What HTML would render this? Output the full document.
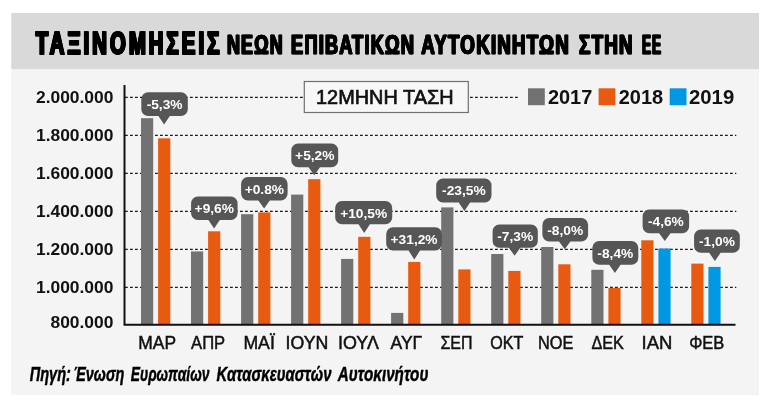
<!DOCTYPE html>
<html lang="el"><head><meta charset="utf-8"><title>ΤΑΞΙΝΟΜΗΣΕΙΣ ΝΕΩΝ ΕΠΙΒΑΤΙΚΩΝ ΑΥΤΟΚΙΝΗΤΩΝ ΣΤΗΝ ΕΕ</title>
<style>
html,body{margin:0;padding:0;background:#fff;}
body{width:768px;height:406px;overflow:hidden;position:relative;}
svg{position:absolute;left:0;top:0;display:block;}
text{font-family:"Liberation Sans",Arial,sans-serif;fill:#111;}
.t1{font-weight:bold;font-size:31.9px;fill:#000;stroke:#000;stroke-width:1.3px;stroke-linejoin:miter;letter-spacing:5px;filter:drop-shadow(0.4px 0 0 #000) drop-shadow(-0.4px 0 0 #000);}
.t2{font-weight:bold;font-size:28px;fill:#000;letter-spacing:1.8px;stroke:#000;stroke-width:0.45px;stroke-linejoin:miter;filter:drop-shadow(0.2px 0 0 #000) drop-shadow(-0.2px 0 0 #000);}
.yl{font-size:17.3px;font-weight:bold;text-anchor:end;}
.bx{font-size:20.6px;stroke:#111;stroke-width:0.7px;}
.lg{font-size:20px;font-weight:bold;}
.xl{font-size:18.4px;stroke:#111;stroke-width:0.5px;}
.src{font-size:19.5px;font-weight:bold;font-style:italic;fill:#000;stroke:#000;stroke-width:0.45px;}
.tp{font-size:12.8px;font-weight:bold;fill:#fff;text-anchor:middle;}
</style></head><body>
<svg width="768" height="406" viewBox="0 0 768 406">
<rect x="11.3" y="13" width="747.7" height="382.2" fill="#f4f4f4"/>
<rect x="11.3" y="13" width="747.7" height="56.1" fill="#d9d9d9"/>
<text class="t1" x="36.2" y="54.1" textLength="186.8" lengthAdjust="spacingAndGlyphs">ΤΑΞΙΝΟΜΗΣΕΙΣ</text>
<text class="t2" x="227.5" y="54.2" textLength="56.8" lengthAdjust="spacingAndGlyphs">ΝΕΩΝ</text>
<text class="t2" x="291.6" y="54.2" textLength="124.0" lengthAdjust="spacingAndGlyphs">ΕΠΙΒΑΤΙΚΩΝ</text>
<text class="t2" x="421.8" y="54.2" textLength="148.8" lengthAdjust="spacingAndGlyphs">ΑΥΤΟΚΙΝΗΤΩΝ</text>
<text class="t2" x="579.5" y="54.2" textLength="54.8" lengthAdjust="spacingAndGlyphs">ΣΤΗΝ</text>
<text class="t2" x="642.5" y="54.2" textLength="19.8" lengthAdjust="spacingAndGlyphs">ΕΕ</text>
<line x1="125" y1="97.3" x2="304" y2="97.3" stroke="#1a1a1a" stroke-width="1.2" stroke-dasharray="2.8 2.2"/>
<line x1="470" y1="97.3" x2="518.2" y2="97.3" stroke="#1a1a1a" stroke-width="1.2" stroke-dasharray="2.8 2.2"/>
<line x1="125" y1="135.3" x2="736.3" y2="135.3" stroke="#1a1a1a" stroke-width="1.2" stroke-dasharray="2.8 2.2"/>
<line x1="125" y1="173.3" x2="736.3" y2="173.3" stroke="#1a1a1a" stroke-width="1.2" stroke-dasharray="2.8 2.2"/>
<line x1="125" y1="211.3" x2="736.3" y2="211.3" stroke="#1a1a1a" stroke-width="1.2" stroke-dasharray="2.8 2.2"/>
<line x1="125" y1="249.3" x2="736.3" y2="249.3" stroke="#1a1a1a" stroke-width="1.2" stroke-dasharray="2.8 2.2"/>
<line x1="125" y1="287.3" x2="736.3" y2="287.3" stroke="#1a1a1a" stroke-width="1.2" stroke-dasharray="2.8 2.2"/>
<rect x="141.0" y="118.2" width="12.2" height="206.5" fill="#727272"/>
<rect x="158.1" y="138.3" width="12.2" height="186.4" fill="#e85a0f"/>
<rect x="191.0" y="251.4" width="12.2" height="73.3" fill="#727272"/>
<rect x="208.1" y="231.3" width="12.2" height="93.4" fill="#e85a0f"/>
<rect x="241.1" y="214.2" width="12.2" height="110.5" fill="#727272"/>
<rect x="258.2" y="212.4" width="12.2" height="112.3" fill="#e85a0f"/>
<rect x="291.1" y="194.6" width="12.2" height="130.1" fill="#727272"/>
<rect x="308.2" y="179.2" width="12.2" height="145.5" fill="#e85a0f"/>
<rect x="341.1" y="258.9" width="12.2" height="65.8" fill="#727272"/>
<rect x="358.2" y="236.8" width="12.2" height="87.9" fill="#e85a0f"/>
<rect x="391.1" y="312.9" width="12.2" height="11.8" fill="#727272"/>
<rect x="408.2" y="261.9" width="12.2" height="62.8" fill="#e85a0f"/>
<rect x="441.2" y="207.4" width="12.2" height="117.3" fill="#727272"/>
<rect x="458.3" y="269.4" width="12.2" height="55.3" fill="#e85a0f"/>
<rect x="491.2" y="254.0" width="12.2" height="70.7" fill="#727272"/>
<rect x="508.3" y="270.9" width="12.2" height="53.8" fill="#e85a0f"/>
<rect x="541.2" y="247.0" width="12.2" height="77.7" fill="#727272"/>
<rect x="558.3" y="264.3" width="12.2" height="60.4" fill="#e85a0f"/>
<rect x="591.3" y="269.8" width="12.2" height="54.9" fill="#727272"/>
<rect x="608.4" y="287.9" width="12.2" height="36.8" fill="#e85a0f"/>
<rect x="641.3" y="240.3" width="12.2" height="84.4" fill="#e85a0f"/>
<rect x="658.4" y="248.5" width="12.2" height="76.2" fill="#0098e3"/>
<rect x="691.3" y="263.6" width="12.2" height="61.1" fill="#e85a0f"/>
<rect x="708.4" y="266.9" width="12.2" height="57.8" fill="#0098e3"/>
<path d="M124.5 85 V324.7 H735.5" fill="none" stroke="#111" stroke-width="2" stroke-linejoin="miter"/>
<text class="yl" x="113.4" y="103.4" textLength="77.4" lengthAdjust="spacingAndGlyphs">2.000.000</text>
<text class="yl" x="113.4" y="141.4" textLength="77.4" lengthAdjust="spacingAndGlyphs">1.800.000</text>
<text class="yl" x="113.4" y="179.4" textLength="77.4" lengthAdjust="spacingAndGlyphs">1.600.000</text>
<text class="yl" x="113.4" y="217.4" textLength="77.4" lengthAdjust="spacingAndGlyphs">1.400.000</text>
<text class="yl" x="113.4" y="255.4" textLength="77.4" lengthAdjust="spacingAndGlyphs">1.200.000</text>
<text class="yl" x="113.4" y="293.4" textLength="77.4" lengthAdjust="spacingAndGlyphs">1.000.000</text>
<text class="yl" x="113.4" y="327.7" textLength="62.9" lengthAdjust="spacingAndGlyphs">800.000</text>
<rect x="304.3" y="81.5" width="164" height="31" fill="#f7f7f7" stroke="#707070" stroke-width="1.2"/>
<text class="bx" x="316.0" y="103.9" textLength="137.6" lengthAdjust="spacingAndGlyphs">12ΜΗΝΗ ΤΑΣΗ</text>
<rect x="528" y="88.3" width="16.8" height="16.9" fill="#727272"/>
<text class="lg" x="547.9" y="104.4" textLength="44.4" lengthAdjust="spacingAndGlyphs">2017</text>
<rect x="598.6" y="88.3" width="16.8" height="16.9" fill="#e85a0f"/>
<text class="lg" x="618.7" y="104.4" textLength="44.4" lengthAdjust="spacingAndGlyphs">2018</text>
<rect x="669.7" y="88.3" width="16.8" height="16.9" fill="#0098e3"/>
<text class="lg" x="689.0" y="104.4" textLength="45.2" lengthAdjust="spacingAndGlyphs">2019</text>
<path d="M148.1 92.2 H181.0 A6.8 6.8 0 0 1 187.8 99.0 V109.2 A6.8 6.8 0 0 1 181.0 116.0 H169.8 L164.1 124.4 L158.4 116.0 H148.1 A6.8 6.8 0 0 1 141.3 109.2 V99.0 A6.8 6.8 0 0 1 148.1 92.2 Z" fill="#565656"/>
<text class="tp" x="164.6" y="109.0" textLength="35.9" lengthAdjust="spacingAndGlyphs">-5,3%</text>
<path d="M197.9 196.6 H230.8 A6.8 6.8 0 0 1 237.6 203.4 V213.2 A6.8 6.8 0 0 1 230.8 220.0 H219.8 L214.1 228.5 L208.4 220.0 H197.9 A6.8 6.8 0 0 1 191.1 213.2 V203.4 A6.8 6.8 0 0 1 197.9 196.6 Z" fill="#565656"/>
<text class="tp" x="214.3" y="213.4" textLength="39.4" lengthAdjust="spacingAndGlyphs">+9,6%</text>
<path d="M247.9 177.0 H280.8 A6.8 6.8 0 0 1 287.6 183.8 V193.6 A6.8 6.8 0 0 1 280.8 200.4 H269.8 L264.1 208.4 L258.4 200.4 H247.9 A6.8 6.8 0 0 1 241.1 193.6 V183.8 A6.8 6.8 0 0 1 247.9 177.0 Z" fill="#565656"/>
<text class="tp" x="264.4" y="193.8" textLength="39.4" lengthAdjust="spacingAndGlyphs">+0.8%</text>
<path d="M298.1 143.4 H331.4 A6.8 6.8 0 0 1 338.2 150.2 V160.4 A6.8 6.8 0 0 1 331.4 167.2 H320.0 L314.3 175.2 L308.6 167.2 H298.1 A6.8 6.8 0 0 1 291.3 160.4 V150.2 A6.8 6.8 0 0 1 298.1 143.4 Z" fill="#565656"/>
<text class="tp" x="314.8" y="160.2" textLength="39.4" lengthAdjust="spacingAndGlyphs">+5,2%</text>
<path d="M342.0 200.9 H385.4 A6.8 6.8 0 0 1 392.2 207.7 V217.4 A6.8 6.8 0 0 1 385.4 224.2 H369.9 L364.2 233.0 L358.5 224.2 H342.0 A6.8 6.8 0 0 1 335.2 217.4 V207.7 A6.8 6.8 0 0 1 342.0 200.9 Z" fill="#565656"/>
<text class="tp" x="363.7" y="217.7" textLength="47.0" lengthAdjust="spacingAndGlyphs">+10,5%</text>
<path d="M393.0 227.2 H435.2 A6.8 6.8 0 0 1 442.0 234.0 V243.8 A6.8 6.8 0 0 1 435.2 250.6 H420.0 L414.3 259.6 L408.6 250.6 H393.0 A6.8 6.8 0 0 1 386.2 243.8 V234.0 A6.8 6.8 0 0 1 393.0 227.2 Z" fill="#565656"/>
<text class="tp" x="414.1" y="244.0" textLength="47.0" lengthAdjust="spacingAndGlyphs">+31,2%</text>
<path d="M443.0 178.4 H484.7 A6.8 6.8 0 0 1 491.5 185.2 V195.6 A6.8 6.8 0 0 1 484.7 202.4 H470.1 L464.4 210.9 L458.7 202.4 H443.0 A6.8 6.8 0 0 1 436.2 195.6 V185.2 A6.8 6.8 0 0 1 443.0 178.4 Z" fill="#565656"/>
<text class="tp" x="463.9" y="195.2" textLength="43.6" lengthAdjust="spacingAndGlyphs">-23,5%</text>
<path d="M499.4 224.4 H531.0 A6.8 6.8 0 0 1 537.8 231.2 V240.9 A6.8 6.8 0 0 1 531.0 247.7 H520.3 L514.6 255.8 L508.9 247.7 H499.4 A6.8 6.8 0 0 1 492.6 240.9 V231.2 A6.8 6.8 0 0 1 499.4 224.4 Z" fill="#565656"/>
<text class="tp" x="515.2" y="241.2" textLength="35.9" lengthAdjust="spacingAndGlyphs">-7,3%</text>
<path d="M549.2 218.1 H581.3 A6.8 6.8 0 0 1 588.1 224.9 V234.7 A6.8 6.8 0 0 1 581.3 241.5 H570.4 L564.7 249.2 L559.0 241.5 H549.2 A6.8 6.8 0 0 1 542.4 234.7 V224.9 A6.8 6.8 0 0 1 549.2 218.1 Z" fill="#565656"/>
<text class="tp" x="565.2" y="234.9" textLength="35.9" lengthAdjust="spacingAndGlyphs">-8,0%</text>
<path d="M599.2 240.9 H631.5 A6.8 6.8 0 0 1 638.3 247.7 V258.0 A6.8 6.8 0 0 1 631.5 264.8 H620.6 L614.9 272.9 L609.2 264.8 H599.2 A6.8 6.8 0 0 1 592.4 258.0 V247.7 A6.8 6.8 0 0 1 599.2 240.9 Z" fill="#565656"/>
<text class="tp" x="615.3" y="257.7" textLength="35.9" lengthAdjust="spacingAndGlyphs">-8,4%</text>
<path d="M649.4 209.5 H682.3 A6.8 6.8 0 0 1 689.1 216.3 V226.4 A6.8 6.8 0 0 1 682.3 233.2 H670.5 L664.8 241.0 L659.1 233.2 H649.4 A6.8 6.8 0 0 1 642.6 226.4 V216.3 A6.8 6.8 0 0 1 649.4 209.5 Z" fill="#565656"/>
<text class="tp" x="665.9" y="226.3" textLength="35.9" lengthAdjust="spacingAndGlyphs">-4,6%</text>
<path d="M700.9 229.4 H733.0 A6.8 6.8 0 0 1 739.8 236.2 V246.0 A6.8 6.8 0 0 1 733.0 252.8 H720.6 L714.9 261.1 L709.2 252.8 H700.9 A6.8 6.8 0 0 1 694.1 246.0 V236.2 A6.8 6.8 0 0 1 700.9 229.4 Z" fill="#565656"/>
<text class="tp" x="717.0" y="246.2" textLength="35.9" lengthAdjust="spacingAndGlyphs">-1,0%</text>
<text class="xl" x="138.3" y="348.6" textLength="37.7" lengthAdjust="spacingAndGlyphs">ΜΑΡ</text>
<text class="xl" x="191.1" y="348.6" textLength="34.1" lengthAdjust="spacingAndGlyphs">ΑΠΡ</text>
<text class="xl" x="243.4" y="348.6" textLength="31.4" lengthAdjust="spacingAndGlyphs">ΜΑΪ</text>
<text class="xl" x="285.6" y="348.6" textLength="42.8" lengthAdjust="spacingAndGlyphs">ΙΟΥΝ</text>
<text class="xl" x="338.0" y="348.6" textLength="40.9" lengthAdjust="spacingAndGlyphs">ΙΟΥΛ</text>
<text class="xl" x="390.6" y="348.6" textLength="31.6" lengthAdjust="spacingAndGlyphs">ΑΥΓ</text>
<text class="xl" x="440.4" y="348.6" textLength="32.0" lengthAdjust="spacingAndGlyphs">ΣΕΠ</text>
<text class="xl" x="490.2" y="348.6" textLength="33.1" lengthAdjust="spacingAndGlyphs">ΟΚΤ</text>
<text class="xl" x="538.0" y="348.6" textLength="35.4" lengthAdjust="spacingAndGlyphs">ΝΟΕ</text>
<text class="xl" x="591.4" y="348.6" textLength="32.4" lengthAdjust="spacingAndGlyphs">ΔΕΚ</text>
<text class="xl" x="641.6" y="348.6" textLength="30.8" lengthAdjust="spacingAndGlyphs">ΙΑΝ</text>
<text class="xl" x="689.2" y="348.6" textLength="35.2" lengthAdjust="spacingAndGlyphs">ΦΕΒ</text>
<text class="src" x="29.7" y="380.9" textLength="41.2" lengthAdjust="spacingAndGlyphs">Πηγή:</text>
<text class="src" x="73.5" y="380.9" textLength="50.8" lengthAdjust="spacingAndGlyphs">Ένωση</text>
<text class="src" x="130.8" y="380.9" textLength="78.6" lengthAdjust="spacingAndGlyphs">Ευρωπαίων</text>
<text class="src" x="216.5" y="380.9" textLength="115.0" lengthAdjust="spacingAndGlyphs">Κατασκευαστών</text>
<text class="src" x="337.8" y="380.9" textLength="90.6" lengthAdjust="spacingAndGlyphs">Αυτοκινήτου</text>
</svg></body></html>
